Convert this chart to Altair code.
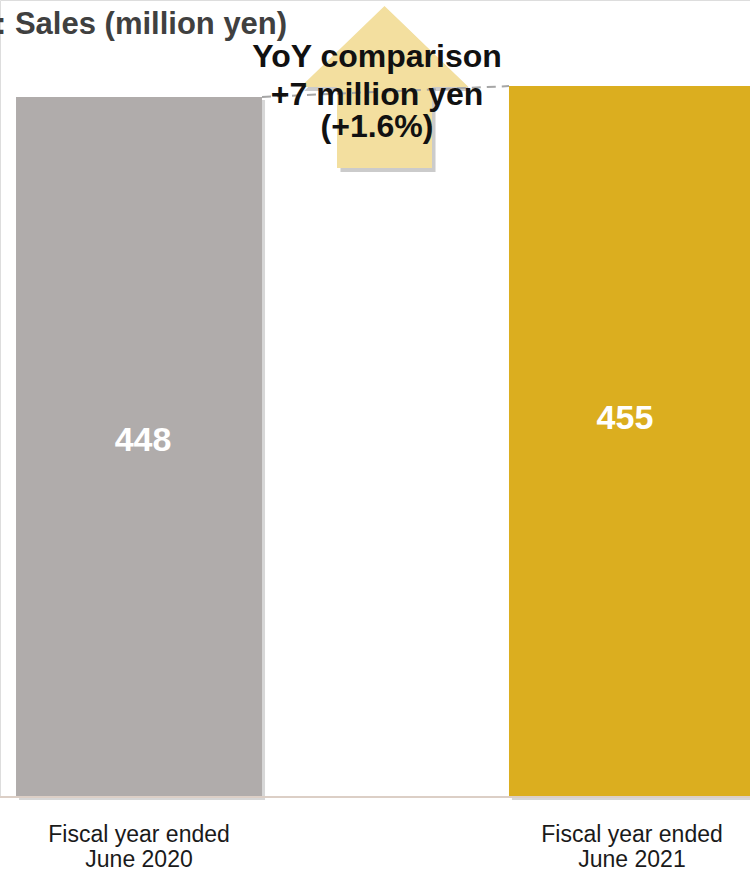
import altair as alt
import pandas as pd

# ---- data ----
categories = ["Fiscal year ended|June 2020", "Fiscal year ended|June 2021"]
sales = [448, 455]
bar_colors = ["#B0ACAB", "#DBAE1F"]
title_text = ": Sales (million yen)"
yoy_lines = ["YoY comparison", "+7 million yen", "(+1.6%)"]

df = pd.DataFrame({"cat": categories, "value": sales, "color": bar_colors})
conn = pd.DataFrame({"from": [categories[0]], "to": [categories[1]],
                     "v1": [sales[0]], "v2": [sales[1]]})

FONT = "Liberation Sans"

xscale = alt.Scale(domain=categories, range=[0, 771], paddingInner=0.501, paddingOuter=0.0325)
yscale = alt.Scale(domain=[0, 510.08], nice=False, zero=True)

xenc = alt.X("cat:N", scale=xscale, sort=categories,
             axis=alt.Axis(title=None, domain=False, ticks=False, tickSize=0, labelAngle=0,
                           labelExpr="split(datum.value, '|')", labelFont=FONT,
                           labelFontSize=23, labelColor="#1a1a1a", labelPadding=26,
                           labelLineHeight=25, labelLimit=0, grid=False))
yenc = alt.Y("value:Q", scale=yscale, axis=None)

base = alt.Chart(df)

shadow = base.mark_bar(color="#7a7a7a", opacity=0.3, xOffset=3, yOffset=3).encode(x=xenc, y=yenc)
bars = base.mark_bar().encode(x=xenc, y=yenc, color=alt.Color("color:N", scale=None))

baseline = alt.Chart(df.head(1)).mark_rule(color="#DCCFC6", strokeWidth=2).encode(
    x=alt.value(0), x2=alt.value(750), y=alt.value(797))

arrow_path = "M0,-0.953 L0.988,0 L0.559,0 L0.559,0.953 L-0.559,0.953 L-0.559,0 L-0.988,0 Z"
arrow_shadow = alt.Chart(df.head(1)).mark_point(
    shape=arrow_path, filled=True, color="#8c8c8c", opacity=0.45, strokeWidth=0, size=28900
).encode(x=alt.value(388), y=alt.value(91))
arrow = alt.Chart(df.head(1)).mark_point(
    shape=arrow_path, filled=True, color="#F3DF9F", opacity=1, strokeWidth=0, size=28900
).encode(x=alt.value(384.5), y=alt.value(87))

dash = alt.Chart(conn).mark_rule(color="#A6A6A6", strokeWidth=2, strokeDash=[9, 6]).encode(
    x=alt.X("from:N", scale=xscale, bandPosition=1),
    x2=alt.X2("to:N", bandPosition=0),
    y=alt.Y("v1:Q", scale=yscale),
    y2="v2:Q",
)

lbl_448 = alt.Chart(df.iloc[[0]]).mark_text(
    font=FONT, fontSize=34, fontWeight="bold", color="white", baseline="middle", dy=-6, dx=4
).encode(x=alt.X("cat:N", scale=xscale, bandPosition=0.5),
         y=alt.Y("half:Q", scale=yscale), text="value:Q").transform_calculate(half="datum.value/2")
lbl_455 = alt.Chart(df.iloc[[1]]).mark_text(
    font=FONT, fontSize=34, fontWeight="bold", color="white", baseline="middle", dy=-23, dx=-7
).encode(x=alt.X("cat:N", scale=xscale, bandPosition=0.5),
         y=alt.Y("half:Q", scale=yscale), text="value:Q").transform_calculate(half="datum.value/2")

title = alt.Chart(df.head(1)).mark_text(
    font=FONT, fontSize=31, fontWeight="bold", color="#404040", align="left", baseline="alphabetic"
).encode(x=alt.value(-4), y=alt.value(34), text=alt.value(title_text))

yoy_y = [67, 105, 137]
yoy = [
    alt.Chart(df.head(1)).mark_text(
        font=FONT, fontSize=32, fontWeight="bold", color="#111111", align="center", baseline="alphabetic"
    ).encode(x=alt.value(377), y=alt.value(yy), text=alt.value(t))
    for t, yy in zip(yoy_lines, yoy_y)
]

chart = alt.layer(shadow, bars, baseline, arrow_shadow, arrow, dash, lbl_448, lbl_455, title, *yoy).properties(
    width=750, height=797,
    autosize=alt.AutoSizeParams(type="none"),
    padding={"left": 0, "right": 0, "top": 0, "bottom": 74},
).configure_view(stroke=None).configure(background="white")

chart.save("out.html", embed_options={"renderer": "svg", "actions": False})
